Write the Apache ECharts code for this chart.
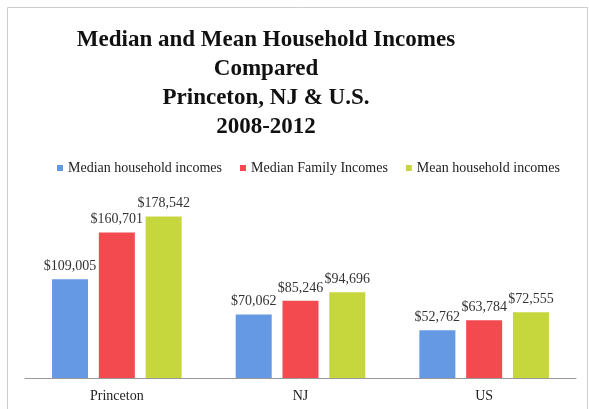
<!DOCTYPE html>
<html><head><meta charset="utf-8">
<script src="https://cdn.jsdelivr.net/npm/echarts@6/dist/echarts.min.js"></script>
<style>html,body{margin:0;padding:0;background:#fff}#c{width:589px;height:409px}</style>
</head><body><div id="c"></div>
<script>
const categories = ['Princeton', 'NJ', 'US'];
const medianHousehold = [109005, 70062, 52762];
const medianFamily = [160701, 85246, 63784];
const meanHousehold = [178542, 94696, 72555];
const seriesNames = ['Median household incomes', 'Median Family Incomes', 'Mean household incomes'];

const FONT = '"Liberation Serif", "DejaVu Serif", serif';
const chart = echarts.init(document.getElementById('c'));
const fmt = p => '$' + p.value.toLocaleString('en-US');
const mk = (name, data, color) => ({
  name, type: 'bar', data, barWidth: 36, barGap: '30%',
  itemStyle: { color },
  label: { show: true, position: 'top', distance: 6, formatter: fmt, fontFamily: FONT, fontSize: 14, color: '#333' }
});
chart.setOption({
  animation: false,
  title: {
    text: 'Median and Mean Household Incomes\nCompared\nPrinceton, NJ & U.S.\n2008-2012',
    left: 261, top: 21, textAlign: 'center',
    textStyle: { fontFamily: FONT, fontWeight: 'bold', fontSize: 23, lineHeight: 29, color: '#111' }
  },
  legend: {
    top: 156, left: 52, itemWidth: 6, itemHeight: 6, itemGap: 18,
    icon: 'rect',
    textStyle: { fontFamily: FONT, fontSize: 14, color: '#222' },
    data: seriesNames
  },
  graphic: [{ type: 'rect', shape: { x: 7.5, y: 7.5, width: 580, height: 410 }, style: { fill: 'none', stroke: '#ccc', lineWidth: 1 } }],
  grid: { left: 25, right: 13, top: 197, bottom: 31 },
  xAxis: {
    type: 'category', data: categories,
    axisLine: { lineStyle: { color: '#999' } }, axisTick: { show: false },
    axisLabel: { fontFamily: FONT, fontSize: 14, color: '#222', margin: 11 }
  },
  yAxis: { type: 'value', min: 0, max: 200000, show: false, splitLine: { show: false } },
  series: [
    mk(seriesNames[0], medianHousehold, '#6699e3'),
    mk(seriesNames[1], medianFamily, '#f24a4f'),
    mk(seriesNames[2], meanHousehold, '#c6d73e')
  ]
});
</script></body></html>
